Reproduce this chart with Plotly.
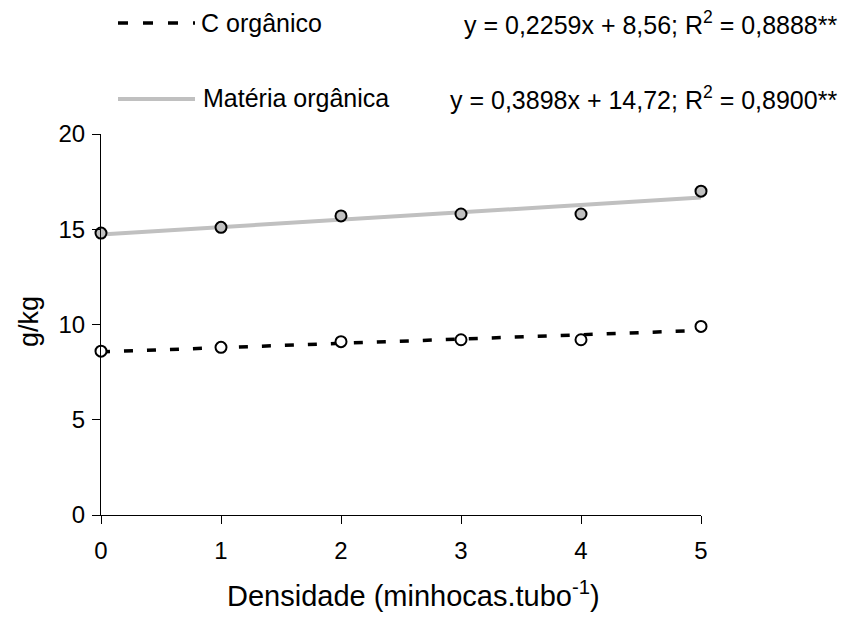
import plotly.graph_objects as go

# Earthworm density (individuals per tube)
densidade = [0, 1, 2, 3, 4, 5]

# Measured contents (g/kg)
c_organico = [8.6, 8.8, 9.1, 9.2, 9.2, 9.9]
materia_organica = [14.8, 15.1, 15.7, 15.8, 15.8, 17.0]

# Linear regression coefficients (slope, intercept)
fit_c = (0.2259, 8.56)
fit_mo = (0.3898, 14.72)

eq_c = "y = 0,2259x + 8,56; R<sup>2</sup> = 0,8888**"
eq_mo = "y = 0,3898x + 14,72; R<sup>2</sup> = 0,8900**"

x_ticks = [0, 1, 2, 3, 4, 5]
y_ticks = [0, 5, 10, 15, 20]

FONT = "Liberation Sans"
GREY = "#c0c0c0"

# plot area in pixels
L, R, T, B = 101, 701, 134, 515
W, H = 842, 628


def px(x):
    return (x - L) / (R - L)


def py(y):
    return (B - y) / (B - T)


x_fit = [densidade[0], densidade[-1]]

fig = go.Figure()

fig.add_trace(go.Scatter(
    x=x_fit, y=[fit_mo[0] * v + fit_mo[1] for v in x_fit],
    mode="lines", line=dict(color=GREY, width=4),
    showlegend=False, cliponaxis=False, hoverinfo="skip"))

fig.add_trace(go.Scatter(
    x=x_fit, y=[fit_c[0] * v + fit_c[1] for v in x_fit],
    mode="lines", line=dict(color="black", width=3.5, dash="9px,14px"),
    showlegend=False, cliponaxis=False, hoverinfo="skip"))

fig.add_trace(go.Scatter(
    x=densidade, y=materia_organica, mode="markers",
    marker=dict(size=11, color=GREY, line=dict(color="black", width=2)),
    showlegend=False, cliponaxis=False))

fig.add_trace(go.Scatter(
    x=densidade, y=c_organico, mode="markers",
    marker=dict(size=11, color="white", line=dict(color="black", width=2)),
    showlegend=False, cliponaxis=False))

axis_common = dict(
    showline=True, linecolor="black", linewidth=1,
    ticks="outside", ticklen=8, tickwidth=1, tickcolor="black",
    showgrid=False, zeroline=False,
    tickfont=dict(family=FONT, size=24, color="black"),
)

fig.update_xaxes(range=[0, 5], tickvals=x_ticks, ticklabelstandoff=6, **axis_common)
fig.update_yaxes(range=[0, 20], tickvals=y_ticks, ticklabelstandoff=2, **axis_common)

shapes = [
    # legend samples
    dict(type="line", xref="paper", yref="paper",
         x0=px(118), x1=px(195), y0=py(23), y1=py(23),
         line=dict(color="black", width=3.5, dash="10px,15px")),
    dict(type="line", xref="paper", yref="paper",
         x0=px(118), x1=px(195), y0=py(99), y1=py(99),
         line=dict(color=GREY, width=4)),
]

annotations = [
    dict(text="C orgânico", x=px(199), y=py(23), xanchor="left", yanchor="middle"),
    dict(text=eq_c, x=px(839), y=py(23), xanchor="right", yanchor="middle"),
    dict(text="Matéria orgânica", x=px(201), y=py(98), xanchor="left", yanchor="middle"),
    dict(text=eq_mo, x=px(839), y=py(98), xanchor="right", yanchor="middle"),
]
for a in annotations:
    a.update(xref="paper", yref="paper", showarrow=False,
             font=dict(family=FONT, size=25, color="black"))

annotations.append(dict(
    text="Densidade (minhocas.tubo<sup>-1</sup>)", x=px(413), y=py(594),
    xref="paper", yref="paper", xanchor="center", yanchor="middle",
    showarrow=False, font=dict(family=FONT, size=29, color="black")))
annotations.append(dict(
    text="g/kg", x=px(29), y=py(322), textangle=-90,
    xref="paper", yref="paper", xanchor="center", yanchor="middle",
    showarrow=False, font=dict(family=FONT, size=27, color="black")))

fig.update_layout(
    width=W, height=H,
    margin=dict(l=L, r=W - R, t=T, b=H - B),
    paper_bgcolor="white", plot_bgcolor="white",
    font=dict(family=FONT, color="black"),
    shapes=shapes, annotations=annotations,
    showlegend=False,
)

fig.write_html("out.html")
